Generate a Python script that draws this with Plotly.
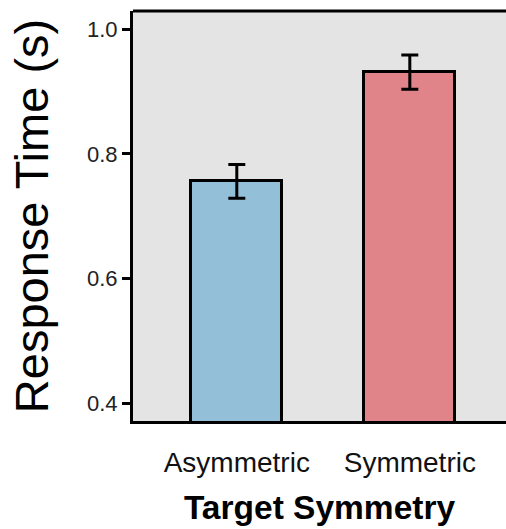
import plotly.graph_objects as go

categories = ["Asymmetric", "Symmetric"]
response_time = [0.756, 0.931]
std_error = [0.027, 0.0275]
bar_colors = ["#93BFD8", "#E0848A"]

fig = go.Figure()
fig.add_trace(go.Bar(
    x=categories,
    y=response_time,
    width=0.525,
    marker=dict(color=bar_colors, line=dict(color="black", width=3)),
    error_y=dict(type="data", array=std_error, visible=True,
                 color="black", thickness=3, width=8.5),
    showlegend=False,
))

fig.update_layout(
    width=506, height=529,
    margin=dict(l=133, r=0, t=11, b=108),
    paper_bgcolor="white",
    plot_bgcolor="#E4E4E4",
    font=dict(family="Liberation Sans, Arial, Helvetica, sans-serif", color="black"),
    bargap=0,
    shapes=[dict(type="line", xref="paper", yref="paper", x0=0, x1=1.02, y0=1, y1=1,
                 line=dict(color="black", width=3), layer="above")],
)
fig.update_xaxes(
    type="category",
    range=[-0.6, 1.556],
    showline=True, linecolor="black", linewidth=3, mirror=False,
    showgrid=False, zeroline=False,
    ticks="outside", ticklen=14, tickcolor="rgba(0,0,0,0)",
    tickfont=dict(size=28, color="#111111"),
    title=dict(text="<b>Target Symmetry</b>", font=dict(size=33.5, color="black"), standoff=19),
)
fig.update_yaxes(
    range=[0.372, 1.029],
    tickvals=[0.4, 0.6, 0.8, 1.0],
    ticktext=["0.4", "0.6", "0.8", "1.0"],
    showline=True, linecolor="black", linewidth=3,
    showgrid=False, zeroline=False,
    ticks="outside", ticklen=8, tickwidth=3, tickcolor="black",
    tickfont=dict(size=22, color="#222222"),
    title=dict(text="Response Time (s)", font=dict(size=47, color="black"), standoff=24),
)

fig.write_html(
    "out.html",
    config={"displayModeBar": False},
    post_script="document.body.style.margin='0';document.body.style.overflow='hidden';",
)
